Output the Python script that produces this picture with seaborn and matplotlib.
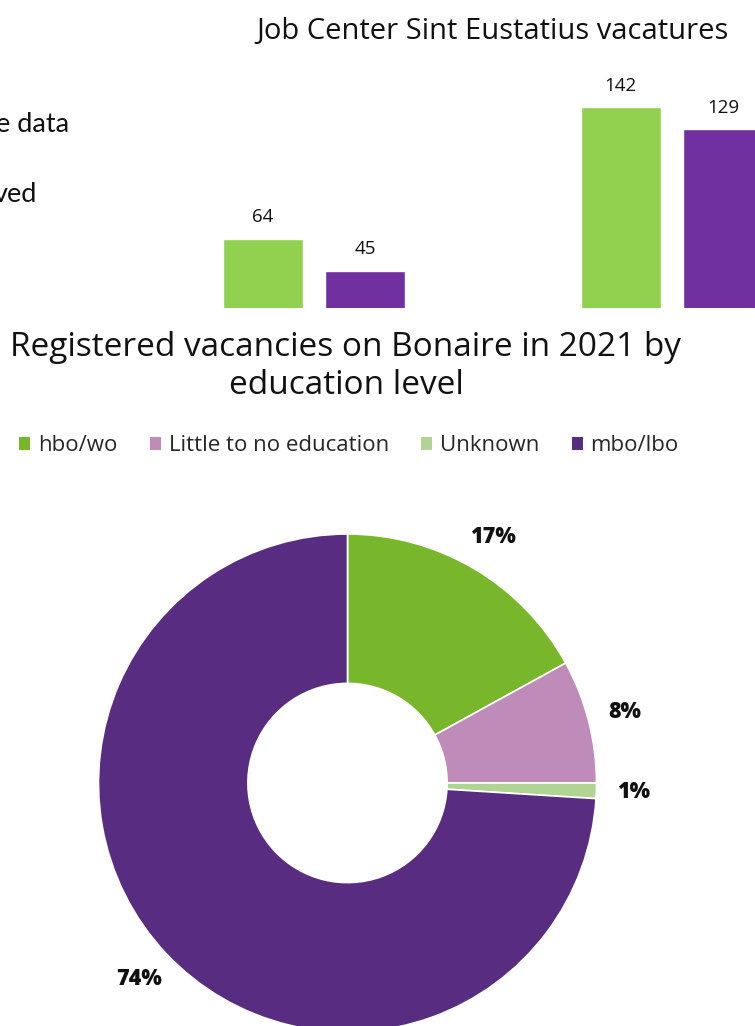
import matplotlib
matplotlib.use("Agg")
import matplotlib.pyplot as plt
from matplotlib.patches import Patch
import seaborn as sns
import pandas as pd

# --- data -------------------------------------------------------------
bar_groups = ["group 1", "group 2"]
bar_series = ["e data", "ved"]
green_values = [64, 142]
purple_values = [45, 129]

pie_labels = ["hbo/wo", "Little to no education", "Unknown", "mbo/lbo"]
pie_shares = [17, 8, 1, 74]

bar_colors = ["#92D050", "#7030A0"]
pie_colors = ["#78B72B", "#BF8CB9", "#B1D393", "#582C80"]

sns.set_theme(style="white")
plt.rcParams["font.family"] = ["Open Sans", "DejaVu Sans"]

W, H = 755, 1026
fig = plt.figure(figsize=(W / 100, H / 100), dpi=100)
renderer = fig.canvas.get_renderer()


def box(x0, y0, x1, y1):
    """Pixel box (top-left origin) -> figure fraction rect."""
    return [x0 / W, 1 - y1 / H, (x1 - x0) / W, (y1 - y0) / H]


def fit_width(txt, target_px):
    """Scale a text's font size so its rendered width is target_px."""
    for _ in range(3):
        w = txt.get_window_extent(renderer).width
        txt.set_fontsize(txt.get_fontsize() * target_px / w)


# --- bar chart: Job Center Sint Eustatius vacatures -------------------
df = pd.DataFrame({
    "group": bar_groups * 2,
    "series": [bar_series[0]] * 2 + [bar_series[1]] * 2,
    "value": green_values + purple_values,
})

top_px, base_px = 60, 307.5
px_per_unit = 1.688
y_base = 23.3
ax1 = fig.add_axes(box(0, top_px, W, base_px))
sns.barplot(data=df, x="group", y="value", hue="series", palette=bar_colors,
            width=0.573, gap=0.218, ax=ax1, legend=False, saturation=1)
group_px = 358.0
ax1.set_xlim(-314 / group_px, 1 + (W - 672) / group_px)
ax1.set_ylim(y_base, y_base + (base_px - top_px) / px_per_unit)
for c in ax1.containers:
    ax1.bar_label(c, fmt="%d", padding=9, fontsize=13.5, color="#111111")
ax1.axis("off")

t1 = fig.text(492 / W, 1 - 31 / H, "Job Center Sint Eustatius vacatures",
              ha="center", va="center", fontsize=18, color="#111111")
fit_width(t1, 472)
fig.text(-4 / W, 1 - 124 / H, "e data", ha="left", va="center",
         fontsize=19.5, color="#111111", family=["Lato", "DejaVu Sans"])
fig.text(-6 / W, 1 - 194 / H, "ved", ha="left", va="center",
         fontsize=19.5, color="#111111", family=["Lato", "DejaVu Sans"])

# --- donut chart: registered vacancies by education level -------------
cx, cy, R = 347.5, 783, 249
k = 1.25
ax2 = fig.add_axes(box(cx - R * k, cy - R * k, cx + R * k, cy + R * k))
wedges, texts, autotexts = ax2.pie(
    pie_shares, colors=pie_colors, startangle=90, counterclock=False,
    radius=1, autopct="%1.0f%%", pctdistance=1.15,
    wedgeprops=dict(width=0.6, edgecolor="white", linewidth=1.2),
    textprops=dict(fontsize=15.5, fontweight="heavy", color="#111111"),
)
ax2.set_xlim(-k, k)
ax2.set_ylim(-k, k)
ax2.set_aspect("equal")
ax2.axis("off")

t2a = fig.text(345 / W, 1 - 348 / H,
               "Registered vacancies on Bonaire in 2021 by",
               ha="center", va="center", fontsize=20, color="#111111")
fit_width(t2a, 670)
fig.text(346 / W, 1 - 386 / H, "education level",
         ha="center", va="center", fontsize=t2a.get_fontsize(),
         color="#111111")

handles = [Patch(facecolor=c, edgecolor="none") for c in pie_colors]
fig.legend(handles, pie_labels, loc="center", ncol=4,
           bbox_to_anchor=(349 / W, 1 - 446 / H), frameon=False,
           fontsize=16, handlelength=0.5, handleheight=0.5,
           handletextpad=0.35, columnspacing=1.45)

fig.savefig("out.png", dpi=100)
